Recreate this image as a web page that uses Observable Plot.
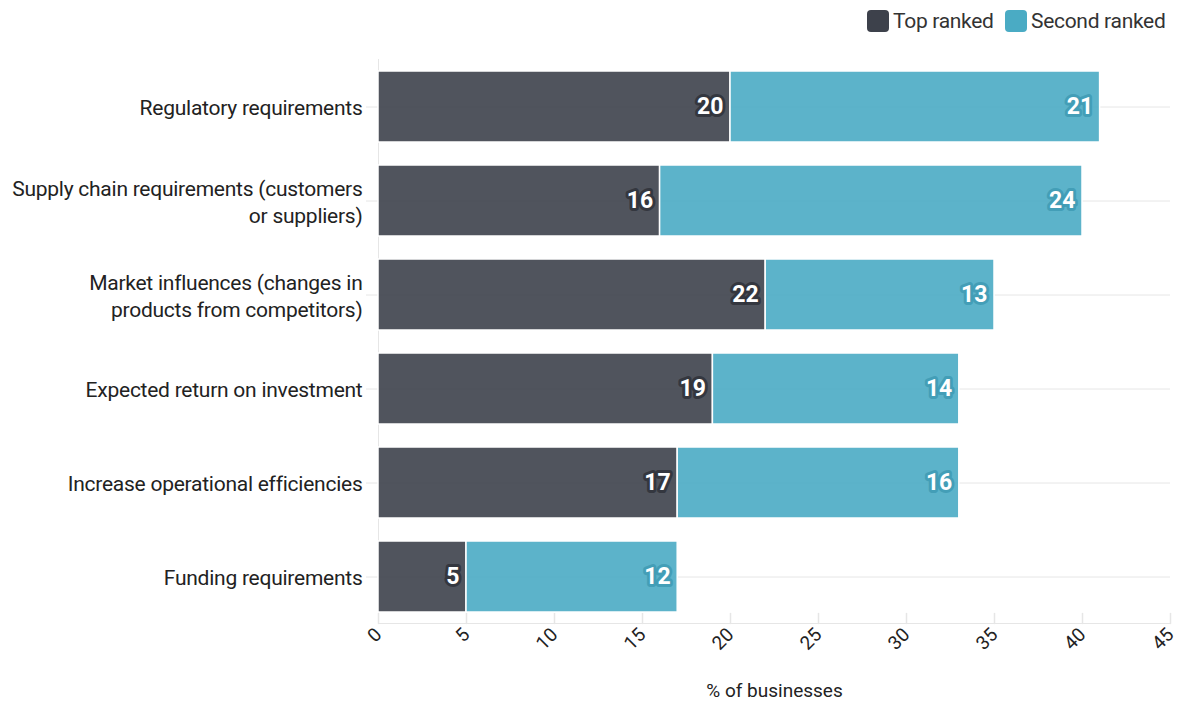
<!DOCTYPE html>
<html>
<head>
<meta charset="utf-8">
<script src="https://cdn.jsdelivr.net/npm/d3@7"></script>
<script src="https://cdn.jsdelivr.net/npm/@observablehq/plot@0.6"></script>
<style>
  html, body { margin: 0; padding: 0; background: #fff; }
  body { width: 1189px; height: 702px; overflow: hidden; font-family: Roboto, "Noto Sans", sans-serif; }
  #legend { height: 42px; position: relative; }
  .item { position: absolute; top: 9px; display: flex; align-items: center; font-size: 21px; color: #333; letter-spacing: -0.3px; }
  .sw { width: 22px; height: 22px; border-radius: 4px; margin-right: 4px; }
  svg { display: block; }
  .ylab text { letter-spacing: -0.25px; }
</style>
</head>
<body>
<div id="legend"></div>
<div id="chart"></div>
<script>
const categories = [
  "Regulatory requirements",
  "Supply chain requirements (customers or suppliers)",
  "Market influences (changes in products from competitors)",
  "Expected return on investment",
  "Increase operational efficiencies",
  "Funding requirements"
];
const tickLabels = [
  "Regulatory requirements",
  "Supply chain requirements (customers\nor suppliers)",
  "Market influences (changes in\nproducts from competitors)",
  "Expected return on investment",
  "Increase operational efficiencies",
  "Funding requirements"
];
const seriesNames = ["Top ranked", "Second ranked"];
const topRanked = [20, 16, 22, 19, 17, 5];
const secondRanked = [21, 24, 13, 14, 16, 12];
const xTicks = [0, 5, 10, 15, 20, 25, 30, 35, 40, 45];
const seriesColors = ["#3d414b", "#4aabc4"];
const haloColors = ["#2f323a", "#3f9bb4"];

const rows = [];
categories.forEach((c, i) => {
  rows.push({cat: c, series: seriesNames[0], value: topRanked[i], s: 0});
  rows.push({cat: c, series: seriesNames[1], value: secondRanked[i], s: 1});
});

// legend
const legend = document.getElementById("legend");
const legendX = [867, 1005];
seriesNames.forEach((name, i) => {
  const d = document.createElement("div");
  d.className = "item";
  d.style.left = legendX[i] + "px";
  d.innerHTML = `<div class="sw" style="background:${seriesColors[i]}"></div><span>${name}</span>`;
  legend.appendChild(d);
});

const labelMap = new Map(categories.map((c, i) => [c, tickLabels[i]]));
const tickShape = {draw(ctx, l) { ctx.moveTo(0, 0); ctx.lineTo(0, -l); }};

const chart = Plot.plot({
  width: 1189,
  height: 660,
  marginLeft: 378,
  marginRight: 19,
  marginTop: 17,
  marginBottom: 79,
  style: {fontFamily: "Roboto, sans-serif", fontSize: "20px", color: "#222", background: "#fff"},
  x: {domain: [0, 45], label: "% of businesses"},
  y: {domain: categories, paddingInner: 0.25, paddingOuter: 0.125, label: null},
  marks: [
    Plot.gridY({stroke: "#e6e6e6", strokeOpacity: 1}),
    Plot.axisY({tickSize: 12, stroke: "#e6e6e6", text: null, label: null}),
    Plot.ruleX([0], {stroke: "#e6e6e6"}),
    Plot.frame({anchor: "bottom", stroke: "#e6e6e6"}),
    Plot.vectorX(xTicks, {x: d => d, frameAnchor: "bottom", length: 10, anchor: "start", rotate: 0, shape: tickShape, stroke: "#e6e6e6"}),
    Plot.barX(rows, Plot.stackX({
      x: "value", y: "cat",
      fill: d => seriesColors[d.s],
      fillOpacity: 0.9,
      stroke: "white", strokeWidth: 1.5
    })),
    Plot.text(rows, Plot.stackX2({
      x: "value", y: "cat", text: d => String(d.value),
      textAnchor: "end", dx: -7,
      fill: "white",
      stroke: d => haloColors[d.s], strokeWidth: 6, strokeOpacity: 0.85,
      fontWeight: "bold", fontSize: 23
    })),
    Plot.axisY({tickSize: 0, tickPadding: 16, fontSize: 21, lineHeight: 1.25, fill: "#222",
      tickFormat: d => labelMap.get(d), label: null, className: "ylab"}),
    Plot.axisX({ticks: xTicks, tickSize: 0, tickPadding: 8, tickRotate: -45, fontSize: 19, fill: "#222",
      label: "% of businesses", labelAnchor: "center", labelArrow: "none", labelOffset: 73})
  ]
});
document.getElementById("chart").appendChild(chart);
</script>
</body>
</html>
